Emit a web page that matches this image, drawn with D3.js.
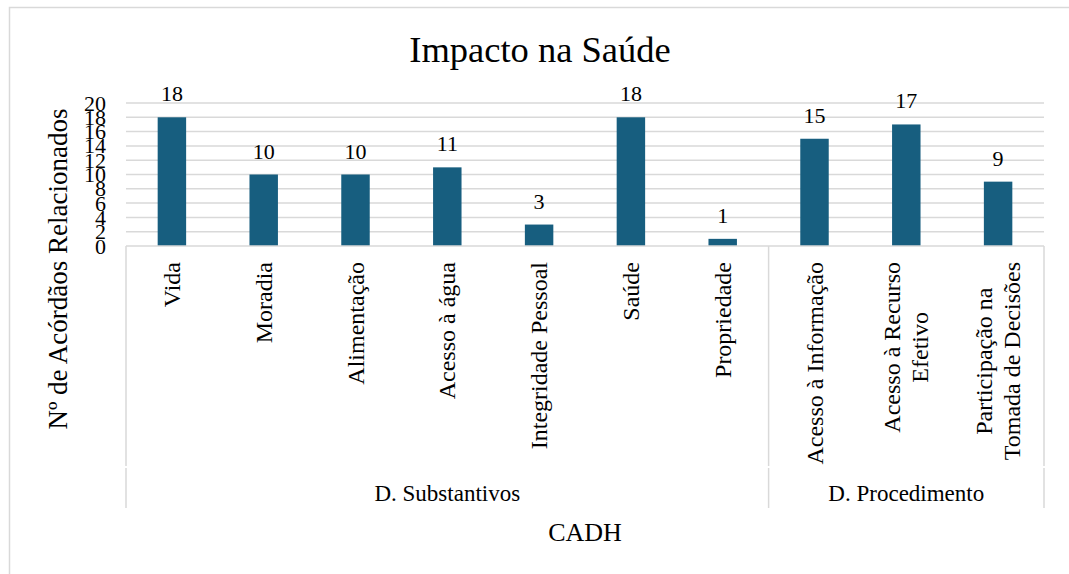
<!DOCTYPE html>
<html><head><meta charset="utf-8">
<script src="https://cdn.jsdelivr.net/npm/d3@7"></script>
<style>body{margin:0;background:#fff}svg{display:block}text{font-family:"Liberation Serif","Times New Roman",serif;fill:#000}</style>
</head><body><svg id="c" width="1069" height="574"></svg>
<script>
const categories = [["Vida"],["Moradia"],["Alimentação"],["Acesso à água"],["Integridade Pessoal"],["Saúde"],["Propriedade"],["Acesso à Informação"],["Acesso à Recurso","Efetivo"],["Participação na","Tomada de Decisões"]];
const values = [18,10,10,11,3,18,1,15,17,9];
const groups = ["D. Substantivos","D. Substantivos","D. Substantivos","D. Substantivos","D. Substantivos","D. Substantivos","D. Substantivos","D. Procedimento","D. Procedimento","D. Procedimento"];
const yTicks = [0,2,4,6,8,10,12,14,16,18,20];
const title = "Impacto na Saúde";
const yTitle = "Nº de Acórdãos Relacionados";
const xTitle = "CADH";

const svg = d3.select("#c");
const L=126, R=1044, T=103, B=246, AX=508, LV=467;
const grid="#d9d9d9", barColor="#175e7f";

svg.append("rect").attr("x",9.5).attr("y",7.5).attr("width",1100).attr("height",600).attr("fill","none").attr("stroke",grid).attr("stroke-width",1.5);

const x = d3.scaleBand().domain(d3.range(values.length)).range([L,R]).paddingInner(0.69).paddingOuter(0.345);
const y = d3.scaleLinear().domain([0,20]).range([B,T]);

svg.append("text").attr("x",540).attr("y",62).attr("text-anchor","middle").attr("font-size",36.5).text(title);

// gridlines
svg.append("g").selectAll("line").data(yTicks.filter(d=>d>0)).join("line")
  .attr("x1",L).attr("x2",R).attr("y1",d=>y(d)).attr("y2",d=>y(d)).attr("stroke",grid).attr("stroke-width",1.5);

// y axis labels
const yAxis = d3.axisLeft(y).tickValues(yTicks).tickSize(0).tickPadding(0);
const gy = svg.append("g").attr("transform",`translate(106,0)`).call(yAxis);
gy.select(".domain").remove();
gy.selectAll("text").attr("font-size",22).attr("font-family","Liberation Serif").attr("fill","#000");

// bars
svg.append("g").selectAll("rect").data(values).join("rect")
  .attr("x",(d,i)=>x(i)).attr("width",x.bandwidth()).attr("y",d=>y(d)).attr("height",d=>y(0)-y(d)).attr("fill",barColor);

// data labels
svg.append("g").selectAll("text").data(values).join("text")
  .attr("x",(d,i)=>x(i)+x.bandwidth()/2).attr("y",d=>y(d)-16).attr("text-anchor","middle").attr("font-size",22).text(d=>d);

// axis line and group separators
svg.append("line").attr("x1",L).attr("x2",R).attr("y1",B).attr("y2",B).attr("stroke",grid).attr("stroke-width",1.5);
const bounds = [0];
groups.forEach((g,i)=>{ if(i>0 && g!==groups[i-1]) bounds.push(i); });
bounds.push(values.length);
const bx = i => L + (R-L)*i/values.length;
const sep = svg.append("g");
sep.selectAll("line.a").data(bounds).join("line").attr("class","a")
  .attr("x1",bx).attr("x2",bx).attr("y1",B).attr("y2",LV-1).attr("stroke",grid).attr("stroke-width",1.5);
sep.selectAll("line.b").data(bounds).join("line").attr("class","b")
  .attr("x1",bx).attr("x2",bx).attr("y1",LV+1).attr("y2",AX).attr("stroke",grid).attr("stroke-width",1.5);

// category labels
const cg = svg.append("g");
categories.forEach((lines,i)=>{
  const cx = x(i)+x.bandwidth()/2;
  const tmp = cg.append("text").attr("font-size",24);
  let maxLen=0;
  lines.forEach(l=>{ tmp.text(l); maxLen=Math.max(maxLen,tmp.node().getComputedTextLength()); });
  tmp.remove();
  const n=lines.length, lh=28;
  lines.forEach((l,j)=>{
    const lx = cx + (j-(n-1)/2)*lh;
    const ly = 262 + maxLen/2;
    cg.append("text").attr("font-size",24).attr("text-anchor","middle").attr("dominant-baseline","central")
      .attr("transform",`translate(${lx},${ly}) rotate(-90)`).text(l);
  });
});

// group labels
for(let k=0;k<bounds.length-1;k++){
  const a=bounds[k], b=bounds[k+1];
  svg.append("text").attr("x",(bx(a)+bx(b))/2).attr("y",501).attr("text-anchor","middle").attr("font-size",23).text(groups[a]);
}

svg.append("text").attr("x",585).attr("y",541).attr("text-anchor","middle").attr("font-size",26).text(xTitle);
svg.append("text").attr("transform","translate(58,269) rotate(-90)").attr("text-anchor","middle").attr("dominant-baseline","central").attr("font-size",27).text(yTitle);
</script></body></html>
